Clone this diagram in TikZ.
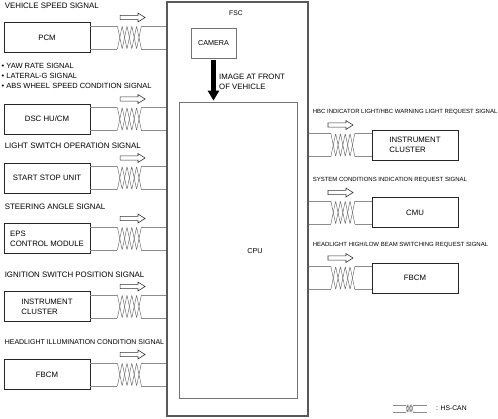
\documentclass[tikz,border=0pt]{standalone}
\usepackage{fontspec}
\setmainfont{Liberation Sans}
\usetikzlibrary{arrows.meta, positioning, shapes.arrows}

\begin{document}
\begin{tikzpicture}[
        x=1pt, y=-1pt,
        module/.style={rectangle, draw=black!85, line width=0.8pt, minimum width=86pt, minimum height=30pt, inner sep=0pt, align=left, font=\fontsize{7.8}{10}\selectfont},
        unit/.style={rectangle, draw=black!55, line width=0.7pt, inner sep=0pt},
        siglbl/.style={inner sep=0pt, font=\fontsize{7.9}{10}\selectfont},
        sigsmall/.style={inner sep=0pt, font=\fontsize{6}{7}\selectfont},
        flow/.style={single arrow, draw=black!80, line width=0.6pt, inner xsep=0pt, inner ysep=1.8pt, minimum height=25pt, single arrow head extend=2.3pt, single arrow head indent=0pt, single arrow tip angle=64},
        wire/.style={draw=black!45, line width=0.5pt},
        twistline/.style={draw=black!60, line width=0.45pt, rounded corners=0.6pt},
        bigarrow/.style={-{Triangle[width=11pt, length=10pt]}, line width=4.5pt},
        pics/twist/.style={code={
            \draw[twistline] (0,0) -- (4.8,23) -- (9.6,0) -- (14.4,23) -- (19.2,0) -- (24,23);
            \draw[twistline] (0,23) -- (4.8,0) -- (9.6,23) -- (14.4,0) -- (19.2,23) -- (24,0);
        }}
    ]
    \useasboundingbox (0,0) rectangle (498,418);

    % FSC with camera and CPU
    \node[draw=black!65, line width=1.7pt, minimum width=141pt, minimum height=414pt] (fsc) at (237.5,209) {};
    \node[font=\fontsize{6.8}{8}\selectfont] (fsclbl) at (236,13) {FSC};
    \node[unit, minimum width=45pt, minimum height=30pt, font=\fontsize{7.2}{9}\selectfont] (camera) at (213.5,43) {CAMERA};
    \node[unit, minimum width=118pt, minimum height=296pt] (cpu) at (238,250) {};
    \node[font=\fontsize{7.2}{9}\selectfont] (cpulbl) at (255,251) {CPU};
    \node[anchor=west, align=left, inner sep=0pt, font=\fontsize{7.8}{10}\selectfont] (imglbl) at (219,82) {IMAGE AT FRONT\\OF VEHICLE};
    \draw[bigarrow, shorten <=2pt, shorten >=1pt] (camera.south) -- (camera.south |- cpu.north);

    % modules on the left
    \node[module] (pcm) at (47,37.5) {PCM};
    \node[module] (dsc) at (47,119) {DSC HU/CM};
    \node[module] (ssu) at (47,178) {START STOP UNIT};
    \node[module] (eps) at (47,238.5) {EPS\\CONTROL MODULE};
    \node[module] (icl) at (47,306.5) {INSTRUMENT\\CLUSTER};
    \node[module] (fbl) at (47,374.5) {FBCM};

    % modules on the right
    \node[module] (icr) at (415,145) {INSTRUMENT\\CLUSTER};
    \node[module] (cmu) at (415,212.5) {CMU};
    \node[module] (fbr) at (415,278) {FBCM};

    % signal texts
    \node[siglbl, above right=13.5pt and 1pt of pcm.north west] (lpcm) {VEHICLE SPEED SIGNAL};
    \node[siglbl, anchor=west, align=left, font=\fontsize{7.5}{10}\selectfont] (ldsc) at (1.5,76) {\textbullet\ YAW RATE SIGNAL\\\textbullet\ LATERAL-G SIGNAL\\\textbullet\ ABS WHEEL SPEED CONDITION SIGNAL};
    \node[siglbl, above right=13.5pt and 1pt of ssu.north west] (lssu) {LIGHT SWITCH OPERATION SIGNAL};
    \node[siglbl, above right=13.5pt and 1pt of eps.north west] (leps) {STEERING ANGLE SIGNAL};
    \node[siglbl, above right=13.5pt and 1pt of icl.north west] (licl) {IGNITION SWITCH POSITION SIGNAL};
    \node[siglbl, font=\fontsize{7}{9}\selectfont, above right=14pt and 1pt of fbl.north west] (lfbl) {HEADLIGHT ILLUMINATION CONDITION SIGNAL};
    \node[sigsmall, above right=14.5pt and -59pt of icr.north west] (licr) {HBC INDICATOR LIGHT/HBC WARNING LIGHT REQUEST SIGNAL};
    \node[sigsmall, above right=14.5pt and -59pt of cmu.north west] (lcmu) {SYSTEM CONDITIONS INDICATION REQUEST SIGNAL};
    \node[sigsmall, above right=14.5pt and -59pt of fbr.north west] (lfbr) {HEADLIGHT HIGH/LOW BEAM SWITCHING REQUEST SIGNAL};

    % HS-CAN lines to the FSC
    \foreach \m in {pcm, dsc, ssu, eps, icl, fbl} {
        \coordinate (t) at ([yshift=11.5pt]\m.east);
        \coordinate (b) at ([yshift=-11.5pt]\m.east);
        \draw[wire] (t) -- ++(27,0) (b) -- ++(27,0);
        \pic at ([xshift=27pt]t) {twist};
        \draw[wire] ([xshift=51pt]t) -- (t -| fsc.west) ([xshift=51pt]b) -- (b -| fsc.west);
        \node[flow] (flow-\m) at ([xshift=40.5pt, yshift=20pt]\m.east) {};
    }
    \foreach \m in {icr, cmu, fbr} {
        \coordinate (r) at (fsc.east |- \m.west);
        \coordinate (t) at ([yshift=11.5pt]r);
        \coordinate (b) at ([yshift=-11.5pt]r);
        \draw[wire] (t) -- ++(22,0) (b) -- ++(22,0);
        \pic at ([xshift=22pt]t) {twist};
        \draw[wire] ([xshift=46pt]t) -- (t -| \m.west) ([xshift=46pt]b) -- (b -| \m.west);
        \node[flow] (flow-\m) at ([xshift=30pt, yshift=20pt]r) {};
    }

    % legend
    \coordinate (hsa) at (406,405);
    \coordinate (hsb) at (413.2,405);
    \draw[wire] (hsa) -- ++(-13,0) (hsa) ++(0,6.9) -- ++(-13,0);
    \draw[wire] (hsb) -- ++(14,0) (hsb) ++(0,6.9) -- ++(14,0);
    \pic[scale=0.3, twistline/.style={draw=black!60, line width=0.25pt}] at (hsa) {twist};
    \node[anchor=west, inner sep=0pt, font=\fontsize{6.8}{8}\selectfont] (hscan) at (436,408.5) {: HS-CAN};
\end{tikzpicture}
\end{document}
